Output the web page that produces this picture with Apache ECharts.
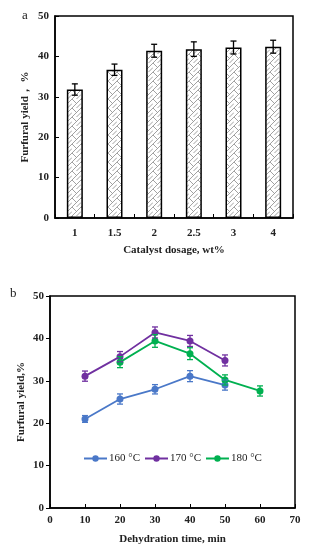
<!DOCTYPE html>
<html><head><meta charset="utf-8">
<script src="https://cdn.jsdelivr.net/npm/echarts@6/dist/echarts.min.js"></script>
<style>html,body{margin:0;padding:0;background:#fff}#c{width:318px;height:550px}</style>
</head><body><div id="c"></div>
<script>
// Panel a
const dosageCats = ['1','1.5','2','2.5','3','4'];
const yieldA = [31.8, 36.7, 41.4, 41.8, 42.2, 42.4];
const errA = [1.4, 1.4, 1.6, 1.8, 1.6, 1.6];
// Panel b
const timeB = [10, 20, 30, 40, 50, 60];
const y160 = [21.0, 25.7, 28.0, 31.1, 29.0, null];
const y170 = [31.1, 35.7, 41.4, 39.4, 34.8, null];
const y180 = [null, 34.4, 39.4, 36.4, 30.2, 27.6];
const err160 = [0.8, 1.2, 1.1, 1.3, 1.2, null];
const err170 = [1.2, 1.2, 1.3, 1.3, 1.3, null];
const err180 = [null, 1.3, 1.5, 1.4, 1.2, 1.2];
const seriesNames = ['160 °C', '170 °C', '180 °C'];
const colors = ['#4a78c8', '#7030a0', '#00b050'];

const font = 'Liberation Serif';
const pat = document.createElement('canvas');
pat.width = 9; pat.height = 9;
const pc = pat.getContext('2d');
pc.fillStyle = '#fff'; pc.fillRect(0,0,9,9);
pc.strokeStyle = '#8a8a8a'; pc.lineWidth = 0.8;
pc.beginPath(); pc.moveTo(0,9); pc.lineTo(9,0); pc.moveTo(0,0); pc.lineTo(4.5,4.5); pc.moveTo(4.5,9);pc.lineTo(9,4.5);pc.stroke();

function errItem(color){
  return function(params, api){
    const x = api.value(0), v = api.value(1), e = api.value(2);
    const hi = api.coord([x, v+e]), lo = api.coord([x, v-e]);
    const w = 3;
    return {type:'group', children:[
      {type:'line', shape:{x1:hi[0],y1:hi[1],x2:lo[0],y2:lo[1]}, style:{stroke:color,lineWidth:1.3}},
      {type:'line', shape:{x1:hi[0]-w,y1:hi[1],x2:hi[0]+w,y2:hi[1]}, style:{stroke:color,lineWidth:1.3}},
      {type:'line', shape:{x1:lo[0]-w,y1:lo[1],x2:lo[0]+w,y2:lo[1]}, style:{stroke:color,lineWidth:1.3}}
    ]};
  };
}
function pairs(ys){ return timeB.map((t,i)=> ys[i]==null? null : [t, ys[i]]).filter(d=>d); }
function errPairs(ys, es){ return timeB.map((t,i)=> ys[i]==null? null : [t, ys[i], es[i]]).filter(d=>d); }

const axisLbl = {fontFamily:font, fontWeight:'bold', fontSize:11, color:'#222'};
const nameSt = {fontFamily:font, fontWeight:'bold', fontSize:11, color:'#222'};
const line = {show:true, lineStyle:{color:'#000', width:1.5}};

const chart = echarts.init(document.getElementById('c'), null, {renderer:'canvas'});
const ysB = [y160, y170, y180], esB = [err160, err170, err180];
const seriesB = [];
ysB.forEach((ys,i)=>{
  seriesB.push({name:seriesNames[i], type:'line', xAxisIndex:2, yAxisIndex:2, data:pairs(ys),
    symbol:'circle', symbolSize:7, itemStyle:{color:colors[i]}, lineStyle:{color:colors[i], width:1.8}, z:3});
  seriesB.push({type:'custom', xAxisIndex:2, yAxisIndex:2, data:errPairs(ys, esB[i]),
    renderItem: errItem(colors[i]), encode:{x:0,y:1}, z:4});
});

chart.setOption({
  animation:false,
  graphic:[
    {type:'text', left:22, top:9, style:{text:'a', font:'13px '+font, fill:'#222'}},
    {type:'text', left:10, top:287, style:{text:'b', font:'13px '+font, fill:'#222'}}
  ],
  legend:{data:seriesNames, left:83, top:453, padding:0, itemWidth:23, itemHeight:8, itemGap:4,
    textStyle:{fontFamily:font, fontSize:11, color:'#222', padding:[0,0,0,-3]}},
  grid:[
    {left:55, top:16, width:238, height:202, show:true, borderColor:'#000', borderWidth:1.5},
    {left:50, top:296, width:245, height:212, show:true, borderColor:'#000', borderWidth:1.5}
  ],
  xAxis:[
    {type:'category', gridIndex:0, data:dosageCats, axisLine:line,
      axisTick:{show:true, inside:true, length:4, lineStyle:{color:'#000'}},
      axisLabel:Object.assign({margin:10}, axisLbl),
      name:'Catalyst dosage, wt%', nameLocation:'middle', nameGap:27, nameTextStyle:nameSt},
    {type:'value', gridIndex:0, show:false},
    {type:'value', gridIndex:1, min:0, max:70, interval:10, axisLine:Object.assign({onZero:false},line),
      axisTick:{show:true, inside:true, length:4, lineStyle:{color:'#000'}},
      axisLabel:Object.assign({margin:7}, axisLbl), splitLine:{show:false},
      name:'Dehydration time, min', nameLocation:'middle', nameGap:26, nameTextStyle:nameSt}
  ],
  yAxis:[
    {type:'value', gridIndex:0, min:0, max:50, interval:10, axisLine:line,
      axisTick:{show:true, inside:true, length:4, lineStyle:{color:'#000'}},
      axisLabel:Object.assign({margin:6}, axisLbl), splitLine:{show:false},
      name:'Furfural yield， %', nameLocation:'middle', nameGap:24, nameMoveOverlap:false, nameTextStyle:nameSt},
    {type:'value', gridIndex:0, show:false},
    {type:'value', gridIndex:1, min:0, max:50, interval:10, axisLine:line,
      axisTick:{show:true, inside:false, length:4, lineStyle:{color:'#000'}},
      axisLabel:Object.assign({margin:6}, axisLbl), splitLine:{show:false},
      name:'Furfural yield,%', nameLocation:'middle', nameGap:23, nameMoveOverlap:false, nameTextStyle:nameSt}
  ],
  series:[
    {type:'bar', xAxisIndex:0, yAxisIndex:0, data:yieldA, barWidth:16,
      itemStyle:{color:{image:pat, repeat:'repeat'}, borderColor:'#000', borderWidth:1.5}},
    {type:'custom', xAxisIndex:0, yAxisIndex:0, data:yieldA.map((v,i)=>[i, v, errA[i]]),
      renderItem: errItem('#000'), encode:{x:0,y:1}, z:5}
  ].concat(seriesB)
});
</script></body></html>
